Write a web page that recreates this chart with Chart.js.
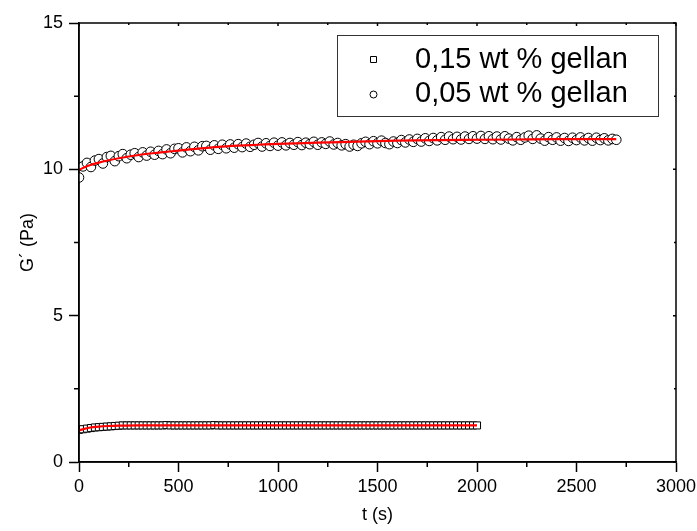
<!DOCTYPE html>
<html>
<head>
<meta charset="utf-8">
<script src="https://cdn.jsdelivr.net/npm/chart.js@4"></script>
<style>
  body { margin: 0; background: #fff; }
  canvas { display: block; }
</style>
</head>
<body>
<canvas id="gChart" width="697" height="531"></canvas>
<script>
  // measurement times (s), one reading every 20 s
  const times = [
    0, 20, 40, 60, 80, 100, 120, 140, 160, 180,
    200, 220, 240, 260, 280, 300, 320, 340, 360, 380,
    400, 420, 440, 460, 480, 500, 520, 540, 560, 580,
    600, 620, 640, 660, 680, 700, 720, 740, 760, 780,
    800, 820, 840, 860, 880, 900, 920, 940, 960, 980,
    1000, 1020, 1040, 1060, 1080, 1100, 1120, 1140, 1160, 1180,
    1200, 1220, 1240, 1260, 1280, 1300, 1320, 1340, 1360, 1380,
    1400, 1420, 1440, 1460, 1480, 1500, 1520, 1540, 1560, 1580,
    1600, 1620, 1640, 1660, 1680, 1700, 1720, 1740, 1760, 1780,
    1800, 1820, 1840, 1860, 1880, 1900, 1920, 1940, 1960, 1980,
    2000, 2020, 2040, 2060, 2080, 2100, 2120, 2140, 2160, 2180,
    2200, 2220, 2240, 2260, 2280, 2300, 2320, 2340, 2360, 2380,
    2400, 2420, 2440, 2460, 2480, 2500, 2520, 2540, 2560, 2580,
    2600, 2620, 2640, 2660, 2680, 2700
  ];

  // 0,05 wt % gellan  (G' in Pa)
  const gel005 = [
    9.72, 10.10, 10.22, 10.08, 10.30, 10.35, 10.20, 10.42, 10.46, 10.28,
    10.45, 10.52, 10.38, 10.50, 10.55, 10.42, 10.58, 10.47, 10.60, 10.50,
    10.63, 10.52, 10.68, 10.55, 10.70, 10.72, 10.58, 10.75, 10.62, 10.77,
    10.65, 10.79, 10.80, 10.67, 10.82, 10.70, 10.84, 10.72, 10.85, 10.74,
    10.86, 10.76, 10.88, 10.77, 10.84, 10.90, 10.78, 10.89, 10.80, 10.91,
    10.81, 10.92, 10.82, 10.90, 10.84, 10.93, 10.83, 10.91, 10.86, 10.94,
    10.84, 10.92, 10.87, 10.95, 10.85, 10.90, 10.82, 10.86, 10.78, 10.84,
    10.80, 10.89, 10.94, 10.86, 10.96, 10.89, 10.98, 10.90, 10.86, 10.95,
    10.90, 11.00, 10.92, 11.02, 10.94, 11.04, 10.95, 11.06, 10.97, 11.07,
    10.99, 11.10, 11.01, 11.12, 11.03, 11.11, 11.02, 11.12, 11.04, 11.13,
    11.05, 11.14, 11.04, 11.13, 11.03, 11.12, 11.02, 11.13, 11.05, 10.99,
    11.10, 11.01, 11.09, 11.15, 11.04, 11.16, 11.05, 10.98, 11.10, 11.01,
    11.09, 10.98, 11.07, 10.97, 11.08, 11.00, 11.09, 10.99, 11.07, 10.98,
    11.08, 11.00, 11.06, 10.99, 11.04, 11.01
  ];

  // 0,15 wt % gellan, measured up to 2000 s
  const gel015 = [
    1.10, 1.12, 1.14, 1.16, 1.18, 1.19, 1.20, 1.21, 1.22, 1.23,
    1.24, 1.25, 1.25, 1.25, 1.25, 1.25, 1.25, 1.25, 1.25, 1.25,
    1.25, 1.25, 1.26, 1.25, 1.25, 1.25, 1.25, 1.25, 1.25, 1.25,
    1.25, 1.25, 1.25, 1.25, 1.26, 1.25, 1.25, 1.25, 1.25, 1.25,
    1.25, 1.25, 1.25, 1.25, 1.25, 1.25, 1.25, 1.25, 1.25, 1.25,
    1.25, 1.25, 1.25, 1.25, 1.25, 1.25, 1.25, 1.25, 1.25, 1.25,
    1.25, 1.25, 1.25, 1.25, 1.25, 1.25, 1.25, 1.25, 1.25, 1.25,
    1.25, 1.25, 1.25, 1.25, 1.25, 1.25, 1.25, 1.25, 1.25, 1.25,
    1.25, 1.25, 1.25, 1.25, 1.25, 1.25, 1.25, 1.25, 1.25, 1.25,
    1.25, 1.25, 1.25, 1.25, 1.25, 1.25, 1.25, 1.25, 1.25, 1.25,
    1.25
  ];

  // fitted curves (red)
  const fitT005 = [0, 25, 50, 100, 150, 200, 300, 400, 500, 600, 700, 800, 900, 1000, 1200, 1400, 1600, 1800, 2000, 2200, 2400, 2700];
  const fitG005 = [9.98, 10.06, 10.13, 10.23, 10.31, 10.38, 10.49, 10.57, 10.64, 10.71, 10.77, 10.81, 10.84, 10.87, 10.91, 10.95, 10.98, 11.00, 11.01, 11.02, 11.03, 11.03];
  const fitT015 = [0, 25, 50, 100, 150, 200, 300, 500, 1000, 1500, 2000];
  const fitG015 = [1.08, 1.13, 1.17, 1.21, 1.23, 1.24, 1.25, 1.25, 1.25, 1.25, 1.25];

  // axis ticks
  const xMajor = [0, 500, 1000, 1500, 2000, 2500, 3000];
  const xMinor = [250, 750, 1250, 1750, 2250, 2750];
  const yMajor = [0, 5, 10, 15];
  const yMinor = [2.5, 7.5, 12.5];

  const legendLabels = ['0,15 wt % gellan', '0,05 wt % gellan'];

  const FONT = "'Liberation Sans', Arial, sans-serif";
  const pts = (xs, ys) => ys.map((v, i) => ({ x: xs[i], y: v }));

  // frame, minor ticks and the in-plot legend
  const extras = {
    id: 'extras',
    afterDraw(chart) {
      const { ctx, chartArea: a, scales: { x, y } } = chart;
      ctx.save();
      ctx.strokeStyle = '#000';
      ctx.lineWidth = 1.5;
      ctx.strokeRect(a.left, a.top, a.right - a.left, a.bottom - a.top);

      ctx.beginPath();
      xMinor.forEach(v => {
        const px = x.getPixelForValue(v);
        ctx.moveTo(px, a.bottom); ctx.lineTo(px, a.bottom + 5);
        ctx.moveTo(px, a.top); ctx.lineTo(px, a.top + 2);
      });
      xMajor.forEach(v => {
        const px = x.getPixelForValue(v);
        ctx.moveTo(px, a.top); ctx.lineTo(px, a.top + 3);
      });
      yMinor.forEach(v => {
        const py = y.getPixelForValue(v);
        ctx.moveTo(a.left, py); ctx.lineTo(a.left - 5, py);
        ctx.moveTo(a.right, py); ctx.lineTo(a.right - 2, py);
      });
      yMajor.forEach(v => {
        const py = y.getPixelForValue(v);
        ctx.moveTo(a.right, py); ctx.lineTo(a.right - 3, py);
      });
      ctx.stroke();

      // legend
      ctx.lineWidth = 1;
      ctx.strokeStyle = '#333';
      ctx.fillStyle = '#fff';
      ctx.fillRect(338, 35, 320, 82);
      ctx.strokeRect(337.5, 35.5, 321, 81);

      ctx.strokeStyle = '#000';
      ctx.beginPath();
      ctx.rect(370.5, 56.5, 6, 6);
      ctx.fill(); ctx.stroke();
      ctx.beginPath();
      ctx.arc(373.5, 94.5, 3.5, 0, Math.PI * 2);
      ctx.fill(); ctx.stroke();

      ctx.fillStyle = '#000';
      ctx.font = '29px ' + FONT;
      ctx.textBaseline = 'middle';
      ctx.textAlign = 'left';
      ctx.fillText(legendLabels[0], 415, 60);
      ctx.fillText(legendLabels[1], 415, 94);
      ctx.restore();
    }
  };

  new Chart(document.getElementById('gChart'), {
    type: 'scatter',
    data: {
      datasets: [
        {
          label: 'fit 0,05',
          data: pts(fitT005, fitG005),
          showLine: true,
          borderColor: '#ff0000',
          borderWidth: 2.2,
          pointRadius: 0,
          cubicInterpolationMode: 'monotone',
          order: 0
        },
        {
          label: 'fit 0,15',
          data: pts(fitT015, fitG015),
          showLine: true,
          borderColor: '#ff0000',
          borderWidth: 2.2,
          pointRadius: 0,
          cubicInterpolationMode: 'monotone',
          order: 0
        },
        {
          label: legendLabels[1],
          data: pts(times, gel005),
          pointStyle: 'circle',
          pointRadius: 4.8,
          pointBorderWidth: 1,
          pointBorderColor: '#000',
          pointBackgroundColor: '#fff',
          order: 1
        },
        {
          label: legendLabels[0],
          data: pts(times, gel015),
          pointStyle: 'rect',
          pointRadius: 5,
          pointBorderWidth: 1,
          pointBorderColor: '#000',
          pointBackgroundColor: '#fff',
          order: 2
        }
      ]
    },
    options: {
      responsive: false,
      animation: false,
      events: [],
      layout: { padding: { left: 0, top: 23, right: 21, bottom: 0 } },
      plugins: {
        legend: { display: false },
        tooltip: { enabled: false }
      },
      scales: {
        x: {
          type: 'linear',
          min: 0,
          max: 3000,
          afterFit: s => { s.height = 69; s.paddingLeft = 0; s.paddingRight = 0; },
          afterBuildTicks: s => { s.ticks = xMajor.map(v => ({ value: v })); },
          ticks: { color: '#000', font: { family: FONT, size: 18 }, padding: 4, maxRotation: 0, callback: v => String(v) },
          grid: { drawOnChartArea: false, tickLength: 10, tickColor: '#000', tickWidth: 1.5 },
          border: { display: true, color: '#000', width: 1.5 },
          title: { display: true, text: 't (s)', color: '#000', font: { family: FONT, size: 18 }, padding: { top: 0, bottom: 5 } }
        },
        y: {
          min: 0,
          max: 15,
          afterFit: s => { s.width = 79; s.paddingTop = 0; s.paddingBottom = 0; },
          afterBuildTicks: s => { s.ticks = yMajor.map(v => ({ value: v })); },
          ticks: { color: '#000', font: { family: FONT, size: 18 }, padding: 6, callback: v => String(v) },
          grid: { drawOnChartArea: false, tickLength: 10, tickColor: '#000', tickWidth: 1.5 },
          border: { display: true, color: '#000', width: 1.5 },
          title: { display: true, text: 'G´ (Pa)', color: '#000', font: { family: FONT, size: 18 }, padding: { top: 17, bottom: 0 } }
        }
      }
    },
    plugins: [extras]
  });
</script>
</body>
</html>
